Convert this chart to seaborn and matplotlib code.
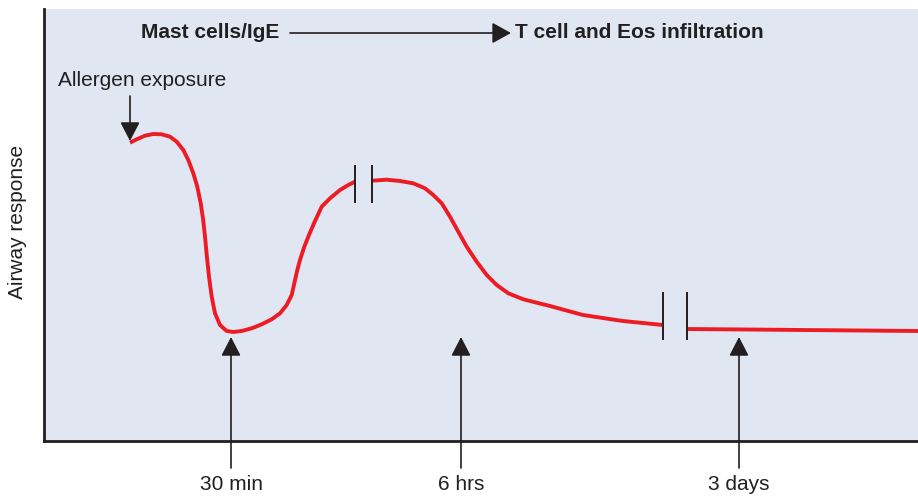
import numpy as np
import pandas as pd
import matplotlib
matplotlib.use("Agg")
import matplotlib.pyplot as plt
import seaborn as sns

# ==========================================
# DATA (x = time position, y = airway response)
# ==========================================
# early phase: allergen exposure -> 30 min dip -> rise to late response
early_x = [86, 92.7, 101, 109.3, 117.7, 126, 132.7, 139.3, 144.3, 149.3, 153.3, 156.7,
           159.2, 161, 162.9, 165, 167.7, 171, 176, 182.7, 189.3, 197.7, 207.7, 217.7,
           227.7, 236, 242.7, 247.7, 250.3, 253.3, 256, 260.3, 265.7, 270.8, 277.7, 286,
           296, 304.3, 311]
early_y = [298.3, 301.7, 305.3, 307, 306.7, 304.3, 299.3, 291, 281, 267.7, 254.3, 237.7,
           221, 204.3, 184.3, 164.3, 144.3, 127.7, 116, 110, 109, 110, 112.7, 116.7,
           121.7, 127.7, 136, 146, 157.7, 171, 181, 194.3, 207.7, 219.5, 234.3, 242.7,
           251, 256, 259.3]

# late phase: 6 hrs peak -> slow decline
late_x = [327.7, 342.7, 356, 369.3, 381, 389.3, 397.7, 406, 414.3, 422.7, 432.7, 442.7,
          452.7, 464.3, 479.3, 492.7, 506, 539, 579, 619]
late_y = [260.3, 261.3, 260, 257.7, 252.7, 246, 237.7, 224.3, 209.3, 194.3, 179.3, 166,
          156, 147.7, 141.7, 138.3, 135, 126, 120, 116]

# chronic phase: 3 days onwards
chronic_x = [643, 874]
chronic_y = [112, 110]

# axis breaks (bars), centre x, centre y and half height
break_x = [311, 327.7, 619, 643]
break_y = [257, 257, 125, 125]
break_half = [19, 19, 24, 24]

# time markers under the curve
marker_x = [187, 417, 695]
marker_labels = ["30 min", "6 hrs", "3 days"]

RED = "#ed1c24"
DARK = "#231f20"
BG = "#e0e7f3"

sns.set_theme(style="white")
plt.rcParams["font.family"] = ["Liberation Sans", "DejaVu Sans"]

fig = plt.figure(figsize=(9.18, 4.96), dpi=100)
ax = fig.add_axes([44 / 918, 55 / 496, 874 / 918, 432 / 496])
ax.set_facecolor(BG)
ax.set_xlim(0, 874)
ax.set_ylim(0, 432)

# response curve
for xs, ys in [(early_x, early_y), (late_x, late_y), (chronic_x, chronic_y)]:
    seg = pd.DataFrame({"x": xs, "y": ys})
    sns.lineplot(data=seg, x="x", y="y", sort=False, estimator=None, ax=ax,
                 color=RED, linewidth=2.8, solid_capstyle="butt", solid_joinstyle="round")

# axis break bars
for bx, by, bh in zip(break_x, break_y, break_half):
    ax.plot([bx, bx], [by - bh, by + bh], color=DARK, linewidth=1.4,
            solid_capstyle="butt")

arrow_kw = dict(arrowstyle="-|>,head_length=0.58,head_width=0.3", color=DARK,
                lw=1.2, shrinkA=0, shrinkB=0, mutation_scale=20)

# time markers: arrows from below the axis up to the curve
for mx, lab in zip(marker_x, marker_labels):
    ax.annotate("", xy=(mx, 104), xytext=(mx, -27), arrowprops=arrow_kw,
                annotation_clip=False)
    ax.text(mx, -44, lab, ha="center", va="center", fontsize=15, color=DARK, clip_on=False)

# allergen exposure arrow
ax.annotate("", xy=(86, 300), xytext=(86, 345), arrowprops=arrow_kw)
ax.text(14, 361, "Allergen exposure", ha="left", va="center", fontsize=15, color=DARK)

# top phase annotation
ax.text(235, 408, "Mast cells/IgE", ha="right", va="center", fontsize=15,
        fontweight="bold", color=DARK)
ax.annotate("", xy=(467, 408), xytext=(246, 408),
            arrowprops=dict(arrowstyle="-|>,head_length=0.58,head_width=0.32", color=DARK,
                            lw=1.2, shrinkA=0, shrinkB=0, mutation_scale=20))
ax.text(471, 408, "T cell and Eos infiltration", ha="left", va="center", fontsize=15,
        fontweight="bold", color=DARK)

fig.text(18 / 918, 1 - 222 / 496, "Airway response", rotation=90, ha="center",
         va="center", fontsize=15, color=DARK)

# spines and ticks
ax.set_xticks([])
ax.set_yticks([])
ax.set_xlabel("")
ax.set_ylabel("")
for side in ["top", "right"]:
    ax.spines[side].set_visible(False)
for side in ["left", "bottom"]:
    ax.spines[side].set_color(DARK)
    ax.spines[side].set_linewidth(2.0)

fig.savefig("out.png", dpi=100)
